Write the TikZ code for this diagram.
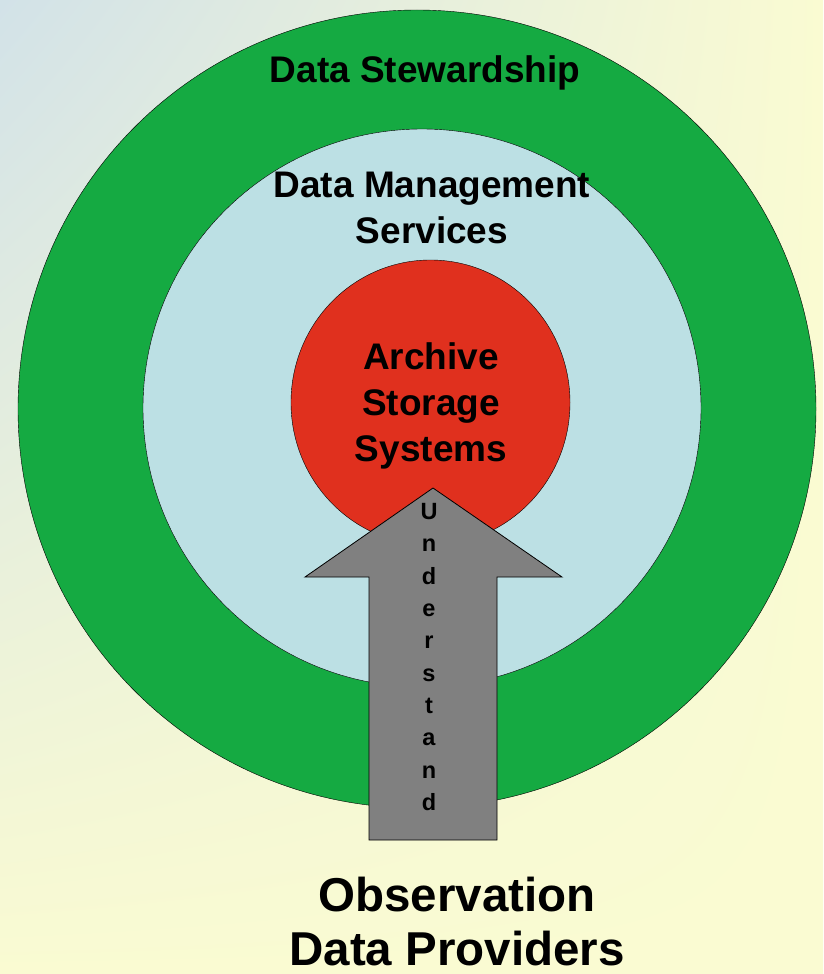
\documentclass[tikz,border=0pt]{standalone}
\usepackage{fontspec}
\setmainfont{Liberation Sans}
\usepackage{xcolor}
\usetikzlibrary{positioning, shadings}
\definecolor{bgblue}{RGB}{210,226,232}
\definecolor{bgyellow}{RGB}{250,251,210}
\definecolor{stewgreen}{RGB}{21,170,66}
\definecolor{mgmtblue}{RGB}{188,224,228}
\definecolor{archred}{RGB}{224,48,30}
\definecolor{arrowgray}{RGB}{128,128,128}

\tikzset{
  ringlabel/.style={font=\bfseries\fontsize{37}{46}\selectfont, align=center, inner sep=0pt},
  bottomlabel/.style={font=\bfseries\fontsize{47.5}{54}\selectfont, align=center, inner sep=0pt},
  letterstack/.style={font=\bfseries\fontsize{23.5}{32.3}\selectfont, align=center, inner sep=0pt}
}

\begin{document}
\begin{tikzpicture}[x=1pt,y=-1pt]
				\useasboundingbox (0,0) rectangle (823,974);
				% background
				\shade[upper left=bgblue, upper right=bgyellow, lower left=bgyellow, lower right=bgyellow] (0,0) rectangle (823,974);
				% rings
				\filldraw[fill=stewgreen, draw=black, thin] (417,409) circle (399);
				\filldraw[fill=mgmtblue, draw=black, thin] (422,408) circle (279);
				\filldraw[fill=archred, draw=black, thin] (430.5,402.5) ellipse (139.5 and 142.5);
				% arrow
				\filldraw[fill=arrowgray, draw=black, thick] (433,488) -- (562,577) -- (497,577) -- (497,840) -- (369,840) -- (369,577) -- (305,577) -- cycle;
				% labels
				\node[ringlabel] (stewardship) at (425,73) {Data Stewardship};
				\node[ringlabel] (management) at (432,208) {Data Management\\Services};
				\node[ringlabel] (archive) at (431,406) {Archive\\Storage\\Systems};
				\node[letterstack] (understand) at (429,657) {U\\n\\d\\e\\r\\s\\t\\a\\n\\d};
				\node[bottomlabel] (providers) at (457,922) {Observation\\Data Providers};
			\end{tikzpicture}
\end{document}
